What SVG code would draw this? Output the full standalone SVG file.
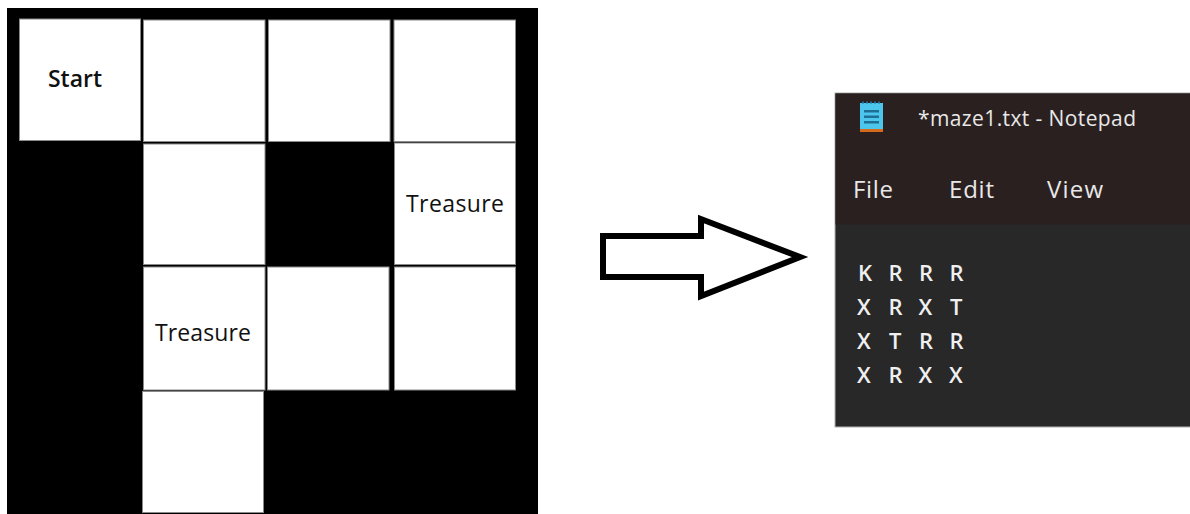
<svg xmlns="http://www.w3.org/2000/svg" width="1190" height="514" viewBox="0 0 1190 514">
  <style>
    .cell { fill: #ffffff; stroke: #8a8a8a; stroke-width: 1; }
    .lbl { font-family: "Open Sans", "Noto Sans", sans-serif; fill: #111111; }
    .ui { font-family: "Open Sans", "Noto Sans", sans-serif; fill: #e8e8e8; }
    .code { font-family: "Open Sans", "Noto Sans", sans-serif; fill: #f0f0f0; font-size: 22px; font-weight: 600; }
  </style>
  <rect width="1190" height="514" fill="#ffffff"/>

  <g id="maze">
    <rect x="7" y="8" width="531" height="506" fill="#000000"/>
    <g id="cell-r0c0"><rect class="cell" x="19.5" y="19" width="121" height="121.5"/>
      <text class="lbl" x="48" y="86.5" font-size="23" font-weight="600" textLength="54">Start</text></g>
    <g id="cell-r0c1"><rect class="cell" x="143.5" y="20" width="121.5" height="121.5"/></g>
    <g id="cell-r0c2"><rect class="cell" x="268.5" y="20" width="121.5" height="121.5"/></g>
    <g id="cell-r0c3"><rect class="cell" x="394" y="20" width="121.5" height="121.5"/></g>
    <g id="cell-r1c1"><rect class="cell" x="143.5" y="144" width="121.5" height="120.5"/></g>
    <g id="cell-r1c3"><rect class="cell" x="394.5" y="143" width="121" height="121.5"/>
      <text class="lbl" x="406" y="212" font-size="23" textLength="98">Treasure</text></g>
    <g id="cell-r2c1"><rect class="cell" x="143.5" y="267" width="121.5" height="123"/>
      <text class="lbl" x="155" y="340.5" font-size="23" textLength="96">Treasure</text></g>
    <g id="cell-r2c2"><rect class="cell" x="267.5" y="267" width="121.5" height="123"/></g>
    <g id="cell-r2c3"><rect class="cell" x="394.5" y="267" width="121" height="123"/></g>
    <g id="cell-r3c1"><rect class="cell" x="142.5" y="391.5" width="121" height="121"/></g>
  </g>

  <g id="connectors">
    <polygon points="603,236 701,236 701,219 800,257 701,296 701,277 603,277" fill="#ffffff" stroke="#000000" stroke-width="6" stroke-linejoin="miter"/>
  </g>

  <g id="notepad">
    <rect x="835" y="93" width="356" height="334" fill="#282828" stroke="#b0b0b0" stroke-width="1"/>
    <rect x="835.5" y="93.5" width="355" height="131" fill="#2b2020"/>
    <g id="icon">
      <rect x="860" y="103" width="23" height="27" fill="#4cc6ec"/>
      <rect x="860" y="129" width="23" height="3" fill="#d66a1c"/>
      <rect x="864" y="110" width="15" height="2.5" fill="#1f6f95"/>
      <rect x="864" y="115.5" width="15" height="2.5" fill="#1f6f95"/>
      <rect x="864" y="121" width="15" height="2.5" fill="#1f6f95"/>
      <g fill="#1f6f95">
        <rect x="862" y="101.5" width="2" height="2"/><rect x="866" y="101.5" width="2" height="2"/>
        <rect x="870" y="101.5" width="2" height="2"/><rect x="874" y="101.5" width="2" height="2"/>
        <rect x="878" y="101.5" width="2" height="2"/>
      </g>
    </g>
    <text class="ui" x="918" y="126" font-size="21" textLength="218">*maze1.txt - Notepad</text>
    <text class="ui" x="853" y="198" font-size="24" textLength="40">File</text>
    <text class="ui" x="949" y="198" font-size="24" textLength="45">Edit</text>
    <text class="ui" x="1047" y="198" font-size="24" textLength="56">View</text>
    <text class="code" x="858 873 888.5 903 919 934 949.5" y="281">K R R R</text>
    <text class="code" x="857 873 888.5 903 918.5 934 950" y="315">X R X T</text>
    <text class="code" x="857 873 889 903 919 934 949.5" y="349">X T R R</text>
    <text class="code" x="857 873 888.5 903 918.5 934 949" y="382.5">X R X X</text>
  </g>
</svg>
